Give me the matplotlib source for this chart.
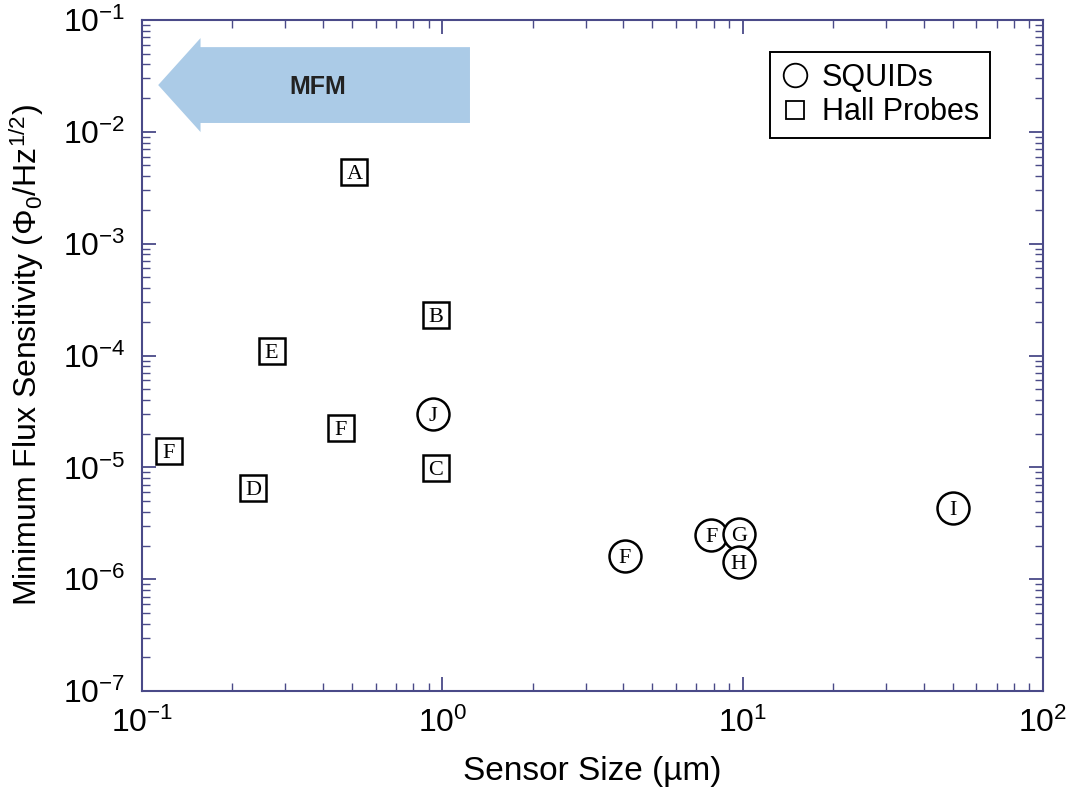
import numpy as np
import matplotlib
matplotlib.use("Agg")
import matplotlib.pyplot as plt
from matplotlib.lines import Line2D
from matplotlib.patches import FancyArrow

plt.rcParams['font.family'] = ['Liberation Sans', 'DejaVu Sans']
plt.rcParams['mathtext.default'] = 'regular'
plt.rcParams['axes.unicode_minus'] = False

# Hall probe sensors (square markers)
hall_labels = ['A', 'B', 'E', 'F', 'F', 'D', 'C']
hall_size = [0.51, 0.95, 0.27, 0.46, 0.123, 0.235, 0.95]
hall_sens = [4.4e-3, 2.3e-4, 1.1e-4, 2.25e-5, 1.4e-5, 6.5e-6, 9.8e-6]

# SQUID sensors (circle markers)
squid_labels = ['J', 'F', 'F', 'G', 'H', 'I']
squid_size = [0.93, 4.05, 7.85, 9.7, 9.7, 50.0]
squid_sens = [3.0e-5, 1.6e-6, 2.5e-6, 2.55e-6, 1.42e-6, 4.3e-6]

axis_col = '#4a4a88'

fig = plt.figure(figsize=(10.87, 7.98), dpi=100)
ax = fig.add_axes([0.1306, 0.134, 0.829, 0.841])

ax.set_xscale('log')
ax.set_yscale('log')
ax.set_xlim(0.1, 100)
ax.set_ylim(1e-7, 1e-1)

# MFM arrow pointing to small sensor sizes
arrow = FancyArrow(0.364, 0.903, -0.346, 0, width=0.113, head_width=0.14,
                   head_length=0.047, length_includes_head=True,
                   transform=ax.transAxes, color='#abcbe7', lw=0, zorder=1)
ax.add_patch(arrow)
ax.text(0.195, 0.9, 'MFM', transform=ax.transAxes, fontsize=18,
        fontweight='bold', color='#222222', ha='center', va='center', zorder=2)

ax.plot(hall_size, hall_sens, 's', ms=19, mfc='white', mec='black', mew=1.8,
        ls='none', zorder=3)
ax.plot(squid_size, squid_sens, 'o', ms=23, mfc='white', mec='black', mew=1.8,
        ls='none', zorder=3)

for lab, x, y in zip(hall_labels + squid_labels, hall_size + squid_size,
                     hall_sens + squid_sens):
    ax.text(x, y, lab, family='Liberation Serif', fontsize=16,
            ha='center', va='center_baseline', zorder=4)

handles = [
    Line2D([], [], marker='o', ls='none', ms=17, mfc='white', mec='black', mew=1.3),
    Line2D([], [], marker='s', ls='none', ms=13, mfc='white', mec='black', mew=1.3),
]
leg = ax.legend(handles, ['SQUIDs', 'Hall Probes'], loc='upper right',
                bbox_to_anchor=(0.941, 0.952), borderaxespad=0, fontsize=22,
                fancybox=False, edgecolor='black', framealpha=1,
                handlelength=0.9, handletextpad=0.45, borderpad=0.35,
                labelspacing=0.15)
leg.get_frame().set_linewidth(1.4)

ax.set_xlabel('Sensor Size (µm)', fontsize=24, labelpad=12)
ax.set_ylabel('Minimum Flux Sensitivity ($\\Phi_0$/Hz$^{1/2}$)', fontsize=23,
              labelpad=12)

for s in ax.spines.values():
    s.set_color(axis_col)
    s.set_linewidth(1.5)
ax.tick_params(which='both', direction='in', top=True, right=True,
               color=axis_col, labelsize=23)
ax.tick_params(which='major', length=10, width=1.3, pad=12)
ax.tick_params(which='minor', length=6, width=1.0)

fig.savefig('out.png', dpi=100)
